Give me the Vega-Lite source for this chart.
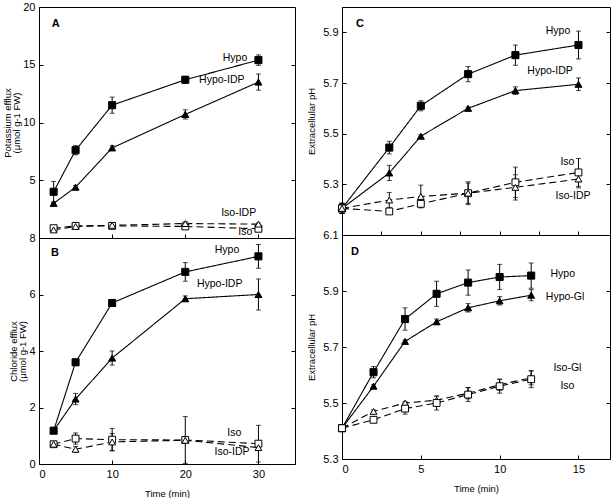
{
  "$schema": "https://vega.github.io/schema/vega-lite/v6.json",
  "background": "white",
  "padding": {"left": 1, "top": 0, "right": 0, "bottom": 0},
  "config": {
    "font": "Liberation Sans",
    "view": {"stroke": "black", "strokeWidth": 1},
    "axis": {
      "labelFont": "Liberation Sans", "labelFontSize": 11, "labelColor": "black",
      "titleFont": "Liberation Sans", "titleFontSize": 9.5, "titleLineHeight": 9.5, "titleFontWeight": "normal", "titleColor": "black", "titlePadding": 2,
      "domainColor": "black", "tickColor": "black", "grid": false, "tickSize": -4, "labelPadding": 8
    }
  },
  "datasets": {
    "pts": [
      {"p": "A", "s": "Hypo", "t": 2, "v": 4.0, "e": 0.9},
      {"p": "A", "s": "Hypo", "t": 5, "v": 7.6, "e": 0.4},
      {"p": "A", "s": "Hypo", "t": 10, "v": 11.5, "e": 0.7},
      {"p": "A", "s": "Hypo", "t": 20, "v": 13.7, "e": 0.3},
      {"p": "A", "s": "Hypo", "t": 30, "v": 15.4, "e": 0.45},
      {"p": "A", "s": "Hypo-IDP", "t": 2, "v": 3.0, "e": 0.1},
      {"p": "A", "s": "Hypo-IDP", "t": 5, "v": 4.4, "e": 0.15},
      {"p": "A", "s": "Hypo-IDP", "t": 10, "v": 7.8, "e": 0.2},
      {"p": "A", "s": "Hypo-IDP", "t": 20, "v": 10.7, "e": 0.4},
      {"p": "A", "s": "Hypo-IDP", "t": 30, "v": 13.5, "e": 0.7},
      {"p": "A", "s": "Iso", "t": 2, "v": 0.85, "e": 0.15},
      {"p": "A", "s": "Iso", "t": 5, "v": 1.05, "e": 0.15},
      {"p": "A", "s": "Iso", "t": 10, "v": 1.05, "e": 0.1},
      {"p": "A", "s": "Iso", "t": 20, "v": 1.0, "e": 0.1},
      {"p": "A", "s": "Iso", "t": 30, "v": 0.8, "e": 0.1},
      {"p": "A", "s": "Iso-IDP", "t": 2, "v": 0.7, "e": 0.1},
      {"p": "A", "s": "Iso-IDP", "t": 5, "v": 1.0, "e": 0.1},
      {"p": "A", "s": "Iso-IDP", "t": 10, "v": 1.1, "e": 0.1},
      {"p": "A", "s": "Iso-IDP", "t": 20, "v": 1.25, "e": 0.15},
      {"p": "A", "s": "Iso-IDP", "t": 30, "v": 1.2, "e": 0.1},

      {"p": "B", "s": "Hypo", "t": 2, "v": 1.18, "e": 0.1},
      {"p": "B", "s": "Hypo", "t": 5, "v": 3.6, "e": 0.1},
      {"p": "B", "s": "Hypo", "t": 10, "v": 5.7, "e": 0.1},
      {"p": "B", "s": "Hypo", "t": 20, "v": 6.8, "e": 0.33},
      {"p": "B", "s": "Hypo", "t": 30, "v": 7.35, "e": 0.42},
      {"p": "B", "s": "Hypo-IDP", "t": 2, "v": 1.18, "e": 0.1},
      {"p": "B", "s": "Hypo-IDP", "t": 5, "v": 2.3, "e": 0.2},
      {"p": "B", "s": "Hypo-IDP", "t": 10, "v": 3.75, "e": 0.25},
      {"p": "B", "s": "Hypo-IDP", "t": 20, "v": 5.85, "e": 0.1},
      {"p": "B", "s": "Hypo-IDP", "t": 30, "v": 6.0, "e": 0.55},
      {"p": "B", "s": "Iso", "t": 2, "v": 0.7, "e": 0.05},
      {"p": "B", "s": "Iso", "t": 5, "v": 0.9, "e": 0.2},
      {"p": "B", "s": "Iso", "t": 10, "v": 0.86, "e": 0.4},
      {"p": "B", "s": "Iso", "t": 20, "v": 0.85, "e": 0.83},
      {"p": "B", "s": "Iso", "t": 30, "v": 0.72, "e": 0.65},
      {"p": "B", "s": "Iso-IDP", "t": 2, "v": 0.7, "e": 0.05},
      {"p": "B", "s": "Iso-IDP", "t": 5, "v": 0.52, "e": 0.1},
      {"p": "B", "s": "Iso-IDP", "t": 10, "v": 0.78, "e": 0.3},
      {"p": "B", "s": "Iso-IDP", "t": 20, "v": 0.84, "e": 0.1},
      {"p": "B", "s": "Iso-IDP", "t": 30, "v": 0.58, "e": 0.1},

      {"p": "C", "s": "Hypo", "t": 0, "v": 5.205, "e": 0.02},
      {"p": "C", "s": "Hypo", "t": 3, "v": 5.445, "e": 0.025},
      {"p": "C", "s": "Hypo", "t": 5, "v": 5.61, "e": 0.02},
      {"p": "C", "s": "Hypo", "t": 8, "v": 5.735, "e": 0.03},
      {"p": "C", "s": "Hypo", "t": 11, "v": 5.81, "e": 0.04},
      {"p": "C", "s": "Hypo", "t": 15, "v": 5.85, "e": 0.055},
      {"p": "C", "s": "Hypo-IDP", "t": 0, "v": 5.205, "e": 0.02},
      {"p": "C", "s": "Hypo-IDP", "t": 3, "v": 5.345, "e": 0.03},
      {"p": "C", "s": "Hypo-IDP", "t": 5, "v": 5.49, "e": 0.005},
      {"p": "C", "s": "Hypo-IDP", "t": 8, "v": 5.6, "e": 0.005},
      {"p": "C", "s": "Hypo-IDP", "t": 11, "v": 5.67, "e": 0.015},
      {"p": "C", "s": "Hypo-IDP", "t": 15, "v": 5.695, "e": 0.025},
      {"p": "C", "s": "Iso", "t": 0, "v": 5.205, "e": 0.02},
      {"p": "C", "s": "Iso", "t": 3, "v": 5.193, "e": 0.005},
      {"p": "C", "s": "Iso", "t": 5, "v": 5.223, "e": 0.005},
      {"p": "C", "s": "Iso", "t": 8, "v": 5.265, "e": 0.045},
      {"p": "C", "s": "Iso", "t": 11, "v": 5.308, "e": 0.06},
      {"p": "C", "s": "Iso", "t": 15, "v": 5.347, "e": 0.055},
      {"p": "C", "s": "Iso-IDP", "t": 0, "v": 5.205, "e": 0.02},
      {"p": "C", "s": "Iso-IDP", "t": 3, "v": 5.238, "e": 0.03},
      {"p": "C", "s": "Iso-IDP", "t": 5, "v": 5.252, "e": 0.045},
      {"p": "C", "s": "Iso-IDP", "t": 8, "v": 5.265, "e": 0.04},
      {"p": "C", "s": "Iso-IDP", "t": 11, "v": 5.288, "e": 0.05},
      {"p": "C", "s": "Iso-IDP", "t": 15, "v": 5.321, "e": 0.035},

      {"p": "D", "s": "Hypo", "t": 0, "v": 5.41, "e": 0.01},
      {"p": "D", "s": "Hypo", "t": 2, "v": 5.61, "e": 0.02},
      {"p": "D", "s": "Hypo", "t": 4, "v": 5.8, "e": 0.04},
      {"p": "D", "s": "Hypo", "t": 6, "v": 5.89, "e": 0.045},
      {"p": "D", "s": "Hypo", "t": 8, "v": 5.93, "e": 0.045},
      {"p": "D", "s": "Hypo", "t": 10, "v": 5.95, "e": 0.045},
      {"p": "D", "s": "Hypo", "t": 12, "v": 5.955, "e": 0.045},
      {"p": "D", "s": "Hypo-Gl", "t": 0, "v": 5.41, "e": 0.01},
      {"p": "D", "s": "Hypo-Gl", "t": 2, "v": 5.56, "e": 0.005},
      {"p": "D", "s": "Hypo-Gl", "t": 4, "v": 5.72, "e": 0.005},
      {"p": "D", "s": "Hypo-Gl", "t": 6, "v": 5.79, "e": 0.01},
      {"p": "D", "s": "Hypo-Gl", "t": 8, "v": 5.84, "e": 0.015},
      {"p": "D", "s": "Hypo-Gl", "t": 10, "v": 5.865, "e": 0.015},
      {"p": "D", "s": "Hypo-Gl", "t": 12, "v": 5.885, "e": 0.02},
      {"p": "D", "s": "Iso-Gl", "t": 0, "v": 5.41, "e": 0.01},
      {"p": "D", "s": "Iso-Gl", "t": 2, "v": 5.47, "e": 0.005},
      {"p": "D", "s": "Iso-Gl", "t": 4, "v": 5.5, "e": 0.005},
      {"p": "D", "s": "Iso-Gl", "t": 6, "v": 5.51, "e": 0.015},
      {"p": "D", "s": "Iso-Gl", "t": 8, "v": 5.535, "e": 0.02},
      {"p": "D", "s": "Iso-Gl", "t": 10, "v": 5.565, "e": 0.02},
      {"p": "D", "s": "Iso-Gl", "t": 12, "v": 5.59, "e": 0.025},
      {"p": "D", "s": "Iso", "t": 0, "v": 5.41, "e": 0.01},
      {"p": "D", "s": "Iso", "t": 2, "v": 5.44, "e": 0.005},
      {"p": "D", "s": "Iso", "t": 4, "v": 5.48, "e": 0.02},
      {"p": "D", "s": "Iso", "t": 6, "v": 5.5, "e": 0.025},
      {"p": "D", "s": "Iso", "t": 8, "v": 5.53, "e": 0.025},
      {"p": "D", "s": "Iso", "t": 10, "v": 5.56, "e": 0.025},
      {"p": "D", "s": "Iso", "t": 12, "v": 5.585, "e": 0.03}
    ],
    "labels": [
      {"p": "A", "s": "Hypo", "t": 26.8, "v": 15.6},
      {"p": "A", "s": "Hypo-IDP", "t": 25.0, "v": 13.7},
      {"p": "A", "s": "Iso-IDP", "t": 27.3, "v": 2.15},
      {"p": "A", "s": "Iso", "t": 28.2, "v": 0.5},
      {"p": "B", "s": "Hypo", "t": 25.7, "v": 7.58},
      {"p": "B", "s": "Hypo-IDP", "t": 24.7, "v": 6.37},
      {"p": "B", "s": "Iso", "t": 26.7, "v": 1.1},
      {"p": "B", "s": "Iso-IDP", "t": 26.4, "v": 0.42},
      {"p": "C", "s": "Hypo", "t": 13.7, "v": 5.906},
      {"p": "C", "s": "Hypo-IDP", "t": 13.2, "v": 5.748},
      {"p": "C", "s": "Iso", "t": 14.3, "v": 5.389},
      {"p": "C", "s": "Iso-IDP", "t": 14.66, "v": 5.254},
      {"p": "D", "s": "Hypo", "t": 14.0, "v": 5.961},
      {"p": "D", "s": "Hypo-Gl", "t": 14.15, "v": 5.879},
      {"p": "D", "s": "Iso-Gl", "t": 14.3, "v": 5.625},
      {"p": "D", "s": "Iso", "t": 14.3, "v": 5.561}
    ],
    "letters": [
      {"p": "A", "s": "A", "t": 2.3, "v": 18.5},
      {"p": "B", "s": "B", "t": 2.2, "v": 7.47},
      {"p": "C", "s": "C", "t": 1.14, "v": 5.934},
      {"p": "D", "s": "D", "t": 0.82, "v": 6.04}
    ]
  },
  "spacing": 10,
  "hconcat": [
    {
      "spacing": 0,
      "bounds": "flush",
      "vconcat": [
        {
          "width": 256, "height": 231,
          "layer": [
            {
              "data": {"name": "pts"},
              "transform": [{"filter": "datum.p === 'A'"}],
              "encoding": {
                "x": {"field": "t", "type": "quantitative", "scale": {"domain": [0, 35], "nice": false, "zero": false}, "axis": {"values": [10, 20, 30], "labels": false, "title": null}},
                "y": {"field": "v", "type": "quantitative", "scale": {"domain": [0, 20], "nice": false, "zero": false}, "axis": {"values": [5, 10, 15, 20], "title": ["Potassium efflux", "(μmol g-1 FW)"], "titlePadding": 1}}
              },
              "layer": [
                {"mark": {"type": "line", "color": "black", "strokeWidth": 1.1},
                 "encoding": {"detail": {"field": "s"}, "strokeDash": {"field": "s", "type": "nominal", "legend": null, "scale": {"domain": ["Hypo", "Hypo-IDP", "Hypo-Gl", "Iso", "Iso-IDP", "Iso-Gl"], "range": [[1, 0], [1, 0], [1, 0], [7, 4], [7, 4], [7, 4]]}}}},
                {"mark": {"type": "errorbar", "color": "black", "thickness": 1, "ticks": {"size": 5, "color": "black", "thickness": 1}},
                 "encoding": {"yError": {"field": "e"}, "detail": {"field": "s"}}},
                {"mark": {"type": "point", "filled": true, "stroke": "black", "strokeWidth": 1, "opacity": 1},
                 "encoding": {
                   "shape": {"field": "s", "type": "nominal", "legend": null, "scale": {"domain": ["Hypo", "Hypo-IDP", "Hypo-Gl", "Iso", "Iso-IDP", "Iso-Gl"], "range": ["square", "triangle-up", "triangle-up", "square", "triangle-up", "triangle-up"]}},
                   "fill": {"field": "s", "type": "nominal", "legend": null, "scale": {"domain": ["Hypo", "Hypo-IDP", "Hypo-Gl", "Iso", "Iso-IDP", "Iso-Gl"], "range": ["black", "black", "black", "white", "white", "white"]}},
                   "size": {"field": "s", "type": "nominal", "legend": null, "scale": {"domain": ["Hypo", "Hypo-IDP", "Hypo-Gl", "Iso", "Iso-IDP", "Iso-Gl"], "range": [50, 45, 45, 35, 30, 30]}}
                 }}
              ]
            },
            {
              "data": {"name": "labels"},
              "transform": [{"filter": "datum.p === 'A'"}],
              "mark": {"type": "text", "fontSize": 10.5, "color": "black", "align": "center", "baseline": "middle"},
              "encoding": {
                "x": {"field": "t", "type": "quantitative", "scale": {"domain": [0, 35], "nice": false, "zero": false}},
                "y": {"field": "v", "type": "quantitative", "scale": {"domain": [0, 20], "nice": false, "zero": false}, "axis": {"orient": "right", "values": [5, 10, 15], "labels": false, "domain": false, "title": null}},
                "text": {"field": "s"}
              }
            },
            {
              "data": {"name": "letters"},
              "transform": [{"filter": "datum.p === 'A'"}],
              "mark": {"type": "text", "fontSize": 11, "fontWeight": "bold", "color": "black", "align": "center", "baseline": "middle"},
              "encoding": {
                "x": {"field": "t", "type": "quantitative", "scale": {"domain": [0, 35], "nice": false, "zero": false}},
                "y": {"field": "v", "type": "quantitative", "scale": {"domain": [0, 20], "nice": false, "zero": false}, "axis": null},
                "text": {"field": "s"}
              }
            }
          ],
          "resolve": {"axis": {"y": "independent"}}
        },
        {
          "width": 256, "height": 226,
          "layer": [
            {
              "data": {"name": "pts"},
              "transform": [{"filter": "datum.p === 'B'"}],
              "encoding": {
                "x": {"field": "t", "type": "quantitative", "scale": {"domain": [0, 35], "nice": false, "zero": false}, "axis": {"values": [0, 10, 20, 30], "title": "Time (min)", "titlePadding": 9}},
                "y": {"field": "v", "type": "quantitative", "scale": {"domain": [0, 8], "nice": false, "zero": false}, "axis": {"values": [0, 2, 4, 6, 8], "title": ["Chloride efflux", "(μmol g-1 FW)"], "titlePadding": 1}}
              },
              "layer": [
                {"mark": {"type": "line", "color": "black", "strokeWidth": 1.1},
                 "encoding": {"detail": {"field": "s"}, "strokeDash": {"field": "s", "type": "nominal", "legend": null, "scale": {"domain": ["Hypo", "Hypo-IDP", "Hypo-Gl", "Iso", "Iso-IDP", "Iso-Gl"], "range": [[1, 0], [1, 0], [1, 0], [7, 4], [7, 4], [7, 4]]}}}},
                {"mark": {"type": "errorbar", "color": "black", "thickness": 1, "ticks": {"size": 5, "color": "black", "thickness": 1}},
                 "encoding": {"yError": {"field": "e"}, "detail": {"field": "s"}}},
                {"mark": {"type": "point", "filled": true, "stroke": "black", "strokeWidth": 1, "opacity": 1},
                 "encoding": {
                   "shape": {"field": "s", "type": "nominal", "legend": null, "scale": {"domain": ["Hypo", "Hypo-IDP", "Hypo-Gl", "Iso", "Iso-IDP", "Iso-Gl"], "range": ["square", "triangle-up", "triangle-up", "square", "triangle-up", "triangle-up"]}},
                   "fill": {"field": "s", "type": "nominal", "legend": null, "scale": {"domain": ["Hypo", "Hypo-IDP", "Hypo-Gl", "Iso", "Iso-IDP", "Iso-Gl"], "range": ["black", "black", "black", "white", "white", "white"]}},
                   "size": {"field": "s", "type": "nominal", "legend": null, "scale": {"domain": ["Hypo", "Hypo-IDP", "Hypo-Gl", "Iso", "Iso-IDP", "Iso-Gl"], "range": [50, 45, 45, 35, 30, 30]}}
                 }}
              ]
            },
            {
              "data": {"name": "labels"},
              "transform": [{"filter": "datum.p === 'B'"}],
              "mark": {"type": "text", "fontSize": 10.5, "color": "black", "align": "center", "baseline": "middle"},
              "encoding": {
                "x": {"field": "t", "type": "quantitative", "scale": {"domain": [0, 35], "nice": false, "zero": false}},
                "y": {"field": "v", "type": "quantitative", "scale": {"domain": [0, 8], "nice": false, "zero": false}, "axis": {"orient": "right", "values": [2, 4, 6], "labels": false, "domain": false, "title": null}},
                "text": {"field": "s"}
              }
            },
            {
              "data": {"name": "letters"},
              "transform": [{"filter": "datum.p === 'B'"}],
              "mark": {"type": "text", "fontSize": 11, "fontWeight": "bold", "color": "black", "align": "center", "baseline": "middle"},
              "encoding": {
                "x": {"field": "t", "type": "quantitative", "scale": {"domain": [0, 35], "nice": false, "zero": false}},
                "y": {"field": "v", "type": "quantitative", "scale": {"domain": [0, 8], "nice": false, "zero": false}, "axis": null},
                "text": {"field": "s"}
              }
            }
          ],
          "resolve": {"axis": {"y": "independent"}}
        }
      ]
    },
    {
      "spacing": 0,
      "bounds": "flush",
      "vconcat": [
        {
          "width": 268, "height": 228,
          "title": {"text": " ", "fontSize": 2, "offset": 2},
          "layer": [
            {
              "data": {"name": "pts"},
              "transform": [{"filter": "datum.p === 'C'"}],
              "encoding": {
                "x": {"field": "t", "type": "quantitative", "scale": {"domain": [0, 17], "nice": false, "zero": false}, "axis": {"values": [2.5, 5, 7.5, 10, 12.5, 15], "labels": false, "title": null}},
                "y": {"field": "v", "type": "quantitative", "scale": {"domain": [5.1, 6.0], "nice": false, "zero": false}, "axis": {"values": [5.3, 5.5, 5.7, 5.9], "format": ".1f", "title": "Extracellular pH", "titlePadding": 6}}
              },
              "layer": [
                {"mark": {"type": "line", "color": "black", "strokeWidth": 1.1},
                 "encoding": {"detail": {"field": "s"}, "strokeDash": {"field": "s", "type": "nominal", "legend": null, "scale": {"domain": ["Hypo", "Hypo-IDP", "Hypo-Gl", "Iso", "Iso-IDP", "Iso-Gl"], "range": [[1, 0], [1, 0], [1, 0], [7, 4], [7, 4], [7, 4]]}}}},
                {"mark": {"type": "errorbar", "color": "black", "thickness": 1, "ticks": {"size": 5, "color": "black", "thickness": 1}},
                 "encoding": {"yError": {"field": "e"}, "detail": {"field": "s"}}},
                {"mark": {"type": "point", "filled": true, "stroke": "black", "strokeWidth": 1, "opacity": 1},
                 "encoding": {
                   "shape": {"field": "s", "type": "nominal", "legend": null, "scale": {"domain": ["Hypo", "Hypo-IDP", "Hypo-Gl", "Iso", "Iso-IDP", "Iso-Gl"], "range": ["square", "triangle-up", "triangle-up", "square", "triangle-up", "triangle-up"]}},
                   "fill": {"field": "s", "type": "nominal", "legend": null, "scale": {"domain": ["Hypo", "Hypo-IDP", "Hypo-Gl", "Iso", "Iso-IDP", "Iso-Gl"], "range": ["black", "black", "black", "white", "white", "white"]}},
                   "size": {"field": "s", "type": "nominal", "legend": null, "scale": {"domain": ["Hypo", "Hypo-IDP", "Hypo-Gl", "Iso", "Iso-IDP", "Iso-Gl"], "range": [50, 45, 45, 35, 30, 30]}}
                 }}
              ]
            },
            {
              "data": {"name": "labels"},
              "transform": [{"filter": "datum.p === 'C'"}],
              "mark": {"type": "text", "fontSize": 10.5, "color": "black", "align": "center", "baseline": "middle"},
              "encoding": {
                "x": {"field": "t", "type": "quantitative", "scale": {"domain": [0, 17], "nice": false, "zero": false}},
                "y": {"field": "v", "type": "quantitative", "scale": {"domain": [5.1, 6.0], "nice": false, "zero": false}, "axis": {"orient": "right", "values": [5.3, 5.5, 5.7, 5.9], "labels": false, "domain": false, "title": null}},
                "text": {"field": "s"}
              }
            },
            {
              "data": {"name": "letters"},
              "transform": [{"filter": "datum.p === 'C'"}],
              "mark": {"type": "text", "fontSize": 11, "fontWeight": "bold", "color": "black", "align": "center", "baseline": "middle"},
              "encoding": {
                "x": {"field": "t", "type": "quantitative", "scale": {"domain": [0, 17], "nice": false, "zero": false}},
                "y": {"field": "v", "type": "quantitative", "scale": {"domain": [5.1, 6.0], "nice": false, "zero": false}, "axis": null},
                "text": {"field": "s"}
              }
            }
          ],
          "resolve": {"axis": {"y": "independent"}}
        },
        {
          "width": 268, "height": 224,
          "layer": [
            {
              "data": {"name": "pts"},
              "transform": [{"filter": "datum.p === 'D'"}],
              "encoding": {
                "x": {"field": "t", "type": "quantitative", "scale": {"domain": [0, 17], "nice": false, "zero": false}, "axis": {"values": [0, 5, 10, 15], "title": "Time (min)", "titlePadding": 9}},
                "y": {"field": "v", "type": "quantitative", "scale": {"domain": [5.3, 6.1], "nice": false, "zero": false}, "axis": {"values": [5.3, 5.5, 5.7, 5.9, 6.1], "format": ".1f", "title": "Extracellular pH", "titlePadding": 6}}
              },
              "layer": [
                {"mark": {"type": "line", "color": "black", "strokeWidth": 1.1},
                 "encoding": {"detail": {"field": "s"}, "strokeDash": {"field": "s", "type": "nominal", "legend": null, "scale": {"domain": ["Hypo", "Hypo-IDP", "Hypo-Gl", "Iso", "Iso-IDP", "Iso-Gl"], "range": [[1, 0], [1, 0], [1, 0], [7, 4], [7, 4], [7, 4]]}}}},
                {"mark": {"type": "errorbar", "color": "black", "thickness": 1, "ticks": {"size": 5, "color": "black", "thickness": 1}},
                 "encoding": {"yError": {"field": "e"}, "detail": {"field": "s"}}},
                {"mark": {"type": "point", "filled": true, "stroke": "black", "strokeWidth": 1, "opacity": 1},
                 "encoding": {
                   "shape": {"field": "s", "type": "nominal", "legend": null, "scale": {"domain": ["Hypo", "Hypo-IDP", "Hypo-Gl", "Iso", "Iso-IDP", "Iso-Gl"], "range": ["square", "triangle-up", "triangle-up", "square", "triangle-up", "triangle-up"]}},
                   "fill": {"field": "s", "type": "nominal", "legend": null, "scale": {"domain": ["Hypo", "Hypo-IDP", "Hypo-Gl", "Iso", "Iso-IDP", "Iso-Gl"], "range": ["black", "black", "black", "white", "white", "white"]}},
                   "size": {"field": "s", "type": "nominal", "legend": null, "scale": {"domain": ["Hypo", "Hypo-IDP", "Hypo-Gl", "Iso", "Iso-IDP", "Iso-Gl"], "range": [50, 45, 45, 35, 30, 30]}}
                 }}
              ]
            },
            {
              "data": {"name": "labels"},
              "transform": [{"filter": "datum.p === 'D'"}],
              "mark": {"type": "text", "fontSize": 10.5, "color": "black", "align": "center", "baseline": "middle"},
              "encoding": {
                "x": {"field": "t", "type": "quantitative", "scale": {"domain": [0, 17], "nice": false, "zero": false}},
                "y": {"field": "v", "type": "quantitative", "scale": {"domain": [5.3, 6.1], "nice": false, "zero": false}, "axis": {"orient": "right", "values": [5.5, 5.7, 5.9], "labels": false, "domain": false, "title": null}},
                "text": {"field": "s"}
              }
            },
            {
              "data": {"name": "letters"},
              "transform": [{"filter": "datum.p === 'D'"}],
              "mark": {"type": "text", "fontSize": 11, "fontWeight": "bold", "color": "black", "align": "center", "baseline": "middle"},
              "encoding": {
                "x": {"field": "t", "type": "quantitative", "scale": {"domain": [0, 17], "nice": false, "zero": false}},
                "y": {"field": "v", "type": "quantitative", "scale": {"domain": [5.3, 6.1], "nice": false, "zero": false}, "axis": null},
                "text": {"field": "s"}
              }
            }
          ],
          "resolve": {"axis": {"y": "independent"}}
        }
      ]
    }
  ]
}
